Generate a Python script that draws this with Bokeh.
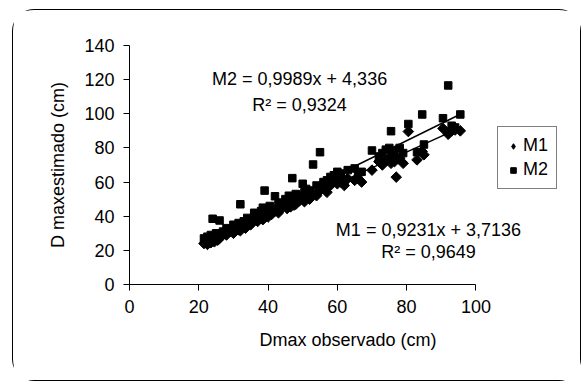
from bokeh.plotting import figure
from bokeh.models import Range1d, Label, Legend, LegendItem, FixedTicker
from bokeh.embed import file_html
from bokeh.resources import INLINE

# Observed Dmax (cm) and the two model estimates
obs = [21.5, 22, 22.5, 23, 23.5, 24, 24.5, 25, 25.5, 26,
       27, 28, 29, 30, 31, 31.5, 32, 33, 33.5, 34,
       35, 36, 37, 38, 38.5, 39, 39.5, 40, 40.5, 41,
       42, 43, 44, 45, 45.5, 46, 46.5, 47, 47.5, 48,
       49, 50, 50.5, 51, 52, 53, 54, 55, 56, 57,
       58, 59, 60, 60.5, 61, 62, 63, 65, 66, 67,
       70, 72, 73, 74, 75, 75.5, 76, 76.5, 77, 78,
       79, 80.5, 83, 84.5, 85, 90.5, 92, 93, 94, 95.5]
m1 = [24, 25, 23.5, 26, 24.5, 27, 25, 28, 26, 27,
      30, 29, 31, 30, 33, 32, 31.5, 34, 33, 36,
      35, 38, 37, 39, 38, 41, 40, 39.5, 42, 41,
      43, 42, 45, 46, 44.5, 47, 45.5, 48, 46.5, 47,
      49, 50, 48.5, 51, 50, 53, 52, 55, 57, 54,
      58, 60, 59, 61, 60, 58, 62, 61, 62, 60,
      67, 72, 70, 73, 74, 71, 76, 72, 62.9, 74,
      71, 89.6, 73, 77.9, 76, 91.4, 88, 90, 90.5, 90]
m2 = [27, 25, 28, 26, 29, 38.5, 27, 30, 28, 37.5,
      31, 33, 32, 35, 34, 36, 47, 37, 36, 39,
      38, 42, 41, 43, 45, 55, 42, 44, 46, 43,
      51.7, 47, 48, 50, 49, 52, 51, 62.3, 50, 53,
      52, 59, 54, 56, 55, 70.3, 58, 77.5, 60, 61,
      63, 64, 66, 62, 65, 60, 67, 68, 64, 66,
      78.5, 75, 77, 79, 80, 89.8, 76, 78, 73, 80,
      77, 94, 77.5, 99.6, 82, 97.4, 116.6, 93, 92, 99.6]

x_ticks = [0, 20, 40, 60, 80, 100]
y_ticks = [0, 20, 40, 60, 80, 100, 120, 140]

m1_slope, m1_icept, m1_r2 = 0.9231, 3.7136, "0,9649"
m2_slope, m2_icept, m2_r2 = 0.9989, 4.336, "0,9324"
m1_eq = "M1 = 0,9231x + 3,7136"
m2_eq = "M2 = 0,9989x + 4,336"

FONT = "Liberation Sans"

FRAME_W = 442
X_END = FRAME_W * 100 / 346.4   # frame extends right of the 0..100 axis

p = figure(frame_width=FRAME_W, frame_height=239,
           min_border_left=116, min_border_right=9,
           min_border_top=35, min_border_bottom=96,
           x_range=Range1d(0, X_END), y_range=Range1d(0, 140),
           output_backend="svg", toolbar_location=None)
p.styles = {"border": "1px solid black", "border-radius": "22px",
            "margin-left": "12px", "margin-top": "9px"}
p.outline_line_color = None
p.xgrid.visible = False
p.ygrid.visible = False
p.background_fill_color = "white"
p.border_fill_color = "white"

for ax in (p.xaxis[0], p.yaxis[0]):
    ax.axis_line_color = "black"
    ax.major_tick_line_color = "black"
    ax.major_tick_out = 6
    ax.major_tick_in = 0
    ax.minor_tick_line_color = None
    ax.major_label_text_font = FONT
    ax.major_label_text_font_size = "18px"
    ax.major_label_text_color = "black"
    ax.axis_label_text_font = FONT
    ax.axis_label_text_font_size = "18px"
    ax.axis_label_text_font_style = "normal"
    ax.axis_label_text_color = "black"

p.xaxis.ticker = FixedTicker(ticks=x_ticks)
p.yaxis.ticker = FixedTicker(ticks=y_ticks)
p.xaxis.bounds = (0, 100)
p.xaxis.axis_label = "Dmax  observado (cm)"
p.yaxis.axis_label = "D maxestimado (cm)"
p.xaxis.major_label_standoff = 9
p.yaxis.major_label_standoff = 9
p.xaxis.axis_label_standoff = 14
p.yaxis.axis_label_standoff = 13

# trend lines from the regression equations
xl = [min(obs), max(obs)]
p.line(xl, [m1_slope * v + m1_icept for v in xl], line_color="black", line_width=1.5)
p.line(xl, [m2_slope * v + m2_icept for v in xl], line_color="black", line_width=1.5)

# legend glyphs: the first point of each series, drawn underneath the series markers
k1 = p.scatter(obs[:1], m1[:1], marker="diamond", size=9, color="black")
k2 = p.scatter(obs[:1], m2[:1], marker="square", size=6, color="black")

r1 = p.scatter(obs, m1, marker="square", angle=0.7854, size=7.5, color="black")
r2 = p.scatter(obs, m2, marker="square", size=7.5, color="black")

legend = Legend(items=[LegendItem(label="M1", renderers=[k1]),
                       LegendItem(label="M2", renderers=[k2])],
                location=(368, 95), orientation="vertical")
legend.border_line_color = "black"
legend.border_line_width = 1
legend.background_fill_color = "white"
legend.background_fill_alpha = 1
legend.label_text_font = FONT
legend.label_text_font_size = "18px"
legend.label_text_color = "black"
legend.padding = 8
legend.spacing = 3
legend.glyph_width = 14
legend.glyph_height = 20
legend.label_standoff = 3
legend.margin = 0
p.add_layout(legend, "center")

def lab(x, y, t):
    p.add_layout(Label(x=x, y=y, text=t, text_font=FONT, text_font_size="18px",
                       text_align="center", text_baseline="middle", text_color="black"))

lab(49.1, 120.1, m2_eq)
lab(49.1, 105.4, "R² = " + m2_r2)
lab(86.3, 32.2, m1_eq)
lab(86.3, 18.9, "R² = " + m1_r2)

open("out.html", "w").write(file_html(p, INLINE))
